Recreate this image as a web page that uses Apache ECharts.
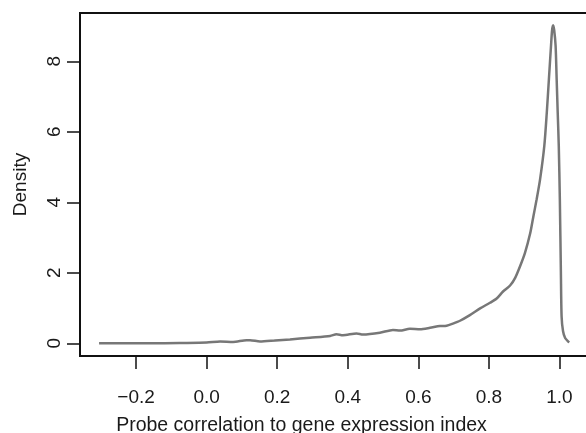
<!DOCTYPE html>
<html>
<head>
<meta charset="utf-8">
<script src="https://cdn.jsdelivr.net/npm/echarts@6/dist/echarts.min.js"></script>
<style>html,body{margin:0;padding:0;background:#fff}#c{width:586px;height:433px}</style>
</head>
<body>
<div id="c"></div>
<script>
var correlation = [-0.305,-0.246,-0.161,-0.076,0.000,0.038,0.075,0.113,0.123,0.151,0.194,0.236,0.293,0.350,0.368,0.386,0.425,0.443,0.491,0.528,0.548,0.576,0.605,0.633,0.661,0.680,0.698,0.718,0.746,0.775,0.803,0.822,0.840,0.860,0.874,0.888,0.902,0.917,0.926,0.935,0.945,0.957,0.964,0.970,0.976,0.979,0.982,0.985,0.989,0.992,0.995,0.998,1.001,1.004,1.006,1.010,1.016,1.025,1.028];
var density = [0.00,0.00,0.00,0.01,0.02,0.05,0.04,0.09,0.09,0.05,0.08,0.11,0.16,0.21,0.26,0.23,0.28,0.25,0.30,0.38,0.36,0.41,0.40,0.44,0.49,0.50,0.56,0.64,0.80,0.99,1.15,1.27,1.47,1.64,1.85,2.18,2.56,3.12,3.60,4.07,4.65,5.60,6.54,7.49,8.44,8.88,9.02,8.88,8.44,7.49,6.54,5.60,4.10,2.00,0.76,0.35,0.15,0.05,0.03];
var xTicks = [-0.2,0.0,0.2,0.4,0.6,0.8,1.0];
var yTicks = [0,2,4,6,8];
var xTitle = 'Probe correlation to gene expression index';
var yTitle = 'Density';

var pts = correlation.map(function(x,i){return [x, density[i]];});
var font = 'Liberation Sans, Arial, Helvetica, sans-serif';
var txt = '#1a1a1a';
var chart = echarts.init(document.getElementById('c'), null, {renderer:'canvas'});
chart.setOption({
  animation:false,
  backgroundColor:'#fff',
  grid:{left:80, top:13, width:513, bottom:77, show:true, borderColor:'#111', borderWidth:2, containLabel:false, outerBoundsMode:'none'},
  xAxis:{
    type:'value', min:-0.359, max:1.095,
    splitLine:{show:false},
    axisLine:{show:false, onZero:false},
    axisTick:{show:true, inside:false, customValues:xTicks, length:13, lineStyle:{color:'#111', width:1.5}},
    axisLabel:{customValues:xTicks, margin:32, fontSize:19, color:txt, fontFamily:font,
      formatter:function(v){return v.toFixed(1).replace('-','\u2212');}},
    name:xTitle, nameLocation:'middle', nameGap:60,
    nameTextStyle:{fontSize:19.5, color:txt, fontFamily:font, padding:[0,70,0,0]}
  },
  yAxis:{
    type:'value', min:-0.36, max:9.37,
    splitLine:{show:false},
    axisLine:{show:false, onZero:false},
    axisTick:{show:true, inside:false, customValues:yTicks, length:13, lineStyle:{color:'#111', width:1.5}},
    axisLabel:{customValues:yTicks, margin:16, fontSize:19, color:txt, fontFamily:font, rotate:90,
      formatter:function(v){return String(v);}},
    name:yTitle, nameLocation:'middle', nameGap:50,
    nameTextStyle:{fontSize:19, color:txt, fontFamily:font}
  },
  series:[{
    type:'line', data:pts, showSymbol:false, smooth:0.25,
    lineStyle:{color:'#777', width:2.5}
  }]
});
</script>
</body>
</html>
